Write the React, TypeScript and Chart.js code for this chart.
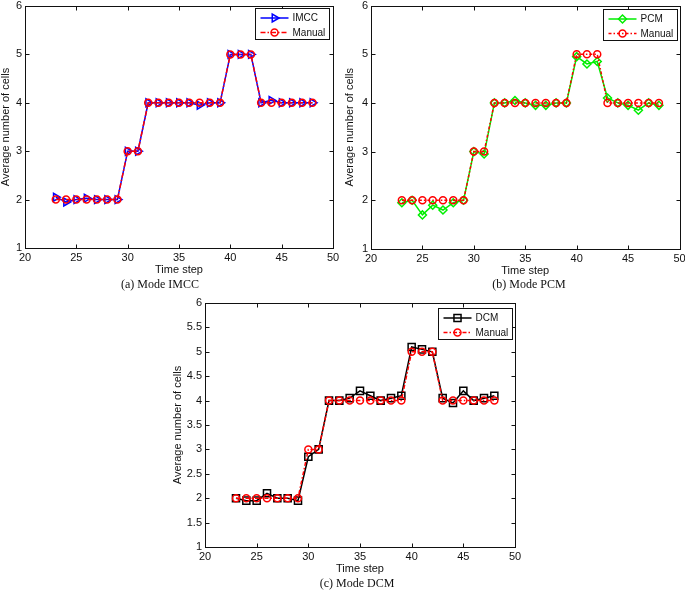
import React, { useEffect, useRef } from 'react';
import { Chart, registerables } from 'chart.js';
import { drawPoint } from 'chart.js/helpers';

Chart.register(...registerables);

const timeSteps = [23, 24, 25, 26, 27, 28, 29, 30, 31, 32, 33, 34, 35, 36, 37, 38, 39, 40, 41, 42, 43, 44, 45, 46, 47, 48];
const manualCells = [2, 2, 2, 2, 2, 2, 2, 3, 3, 4, 4, 4, 4, 4, 4, 4, 4, 5, 5, 5, 4, 4, 4, 4, 4, 4];
const imccCells = [2.05, 1.95, 2.0, 2.03, 2.0, 2.0, 2.0, 3.0, 3.0, 4.0, 4.0, 4.0, 4.0, 4.0, 3.95, 4.0, 4.0, 5.0, 5.0, 5.0, 4.0, 4.05, 4.0, 4.0, 4.0, 4.0];
const pcmCells = [1.95, 2.0, 1.7, 1.9, 1.8, 1.95, 2.0, 3.0, 2.95, 4.0, 4.0, 4.05, 4.0, 3.95, 3.95, 4.0, 4.0, 4.95, 4.8, 4.85, 4.1, 4.0, 3.95, 3.85, 4.0, 3.95];
const dcmCells = [2.0, 1.95, 1.95, 2.1, 2.0, 2.0, 1.95, 2.85, 3.0, 4.0, 4.0, 4.05, 4.2, 4.1, 4.0, 4.05, 4.1, 5.1, 5.05, 5.0, 4.05, 3.95, 4.2, 4.0, 4.05, 4.1];

const xMin = 20;
const xMax = 50;
const xStep = 5;
const yMin = 1;
const yMax = 6;

const xTitle = 'Time step';
const yTitle = 'Average number of cells';

type SeriesDef = {
  label: string;
  values: number[];
  color: string;
  dash: number[];
  pointStyle: string;
  rotation: number;
  radius: number;
  order: number;
};

const manualSeries = (dash: number[]): SeriesDef => ({
  label: 'Manual', values: manualCells, color: '#ff0000', dash, pointStyle: 'circle', rotation: 0, radius: 3.5, order: 0,
});

const panels = [
  {
    key: 'a', left: 0, top: 0, width: 340, height: 278, pad: { top: 4, right: 7, left: 0, bottom: 0 }, yWidth: 25, xHeight: 30,
    yStep: 1, yTitlePad: 0, legendRight: 4, legendTop: 2,
    caption: '(a) Mode IMCC', capX: 160, capY: 284,
    series: [
      { label: 'IMCC', values: imccCells, color: '#0000ff', dash: [], pointStyle: 'triangle', rotation: 90, radius: 4.5, order: 1 },
      manualSeries([5, 2, 1.5, 2]),
    ] as SeriesDef[],
  },
  {
    key: 'b', left: 343, top: 0, width: 342, height: 279, pad: { top: 4, right: 5, left: 0, bottom: 0 }, yWidth: 28, xHeight: 30,
    yStep: 1, yTitlePad: 1.5, legendRight: 3, legendTop: 3,
    caption: '(b) Mode PCM', capX: 529, capY: 284,
    series: [
      { label: 'PCM', values: pcmCells, color: '#00ee00', dash: [], pointStyle: 'rectRot', rotation: 0, radius: 4, order: 1 },
      manualSeries([3, 2, 1.5, 2]),
    ] as SeriesDef[],
  },
  {
    key: 'c', left: 170, top: 295, width: 355, height: 282, pad: { top: 8, right: 10, left: 0, bottom: 0 }, yWidth: 35, xHeight: 30,
    yStep: 0.5, yTitlePad: 2.5, legendRight: 3, legendTop: 5,
    caption: '(c) Mode DCM', capX: 357, capY: 583,
    series: [
      { label: 'DCM', values: dcmCells, color: '#000000', dash: [], pointStyle: 'rect', rotation: 0, radius: 5, order: 1 },
      manualSeries([4, 2, 1.5, 2]),
    ] as SeriesDef[],
  },
];

const FONT = '"Liberation Sans", Arial, sans-serif';

const framePlugin = {
  id: 'matlabFrame',
  afterDraw(chart: any) {
    const { ctx, chartArea } = chart;
    const { left, right, top, bottom } = chartArea;
    const L = Math.round(left) + 0.5;
    const R = Math.round(right) + 0.5;
    const T = Math.round(top) + 0.5;
    const B = Math.round(bottom) + 0.5;
    ctx.save();
    ctx.strokeStyle = '#111';
    ctx.lineWidth = 1;
    ctx.setLineDash([]);
    ctx.strokeRect(L, T, R - L, B - T);
    const tl = 4;
    ctx.beginPath();
    chart.scales.x.ticks.forEach((t: any) => {
      const px = Math.round(chart.scales.x.getPixelForValue(t.value)) + 0.5;
      ctx.moveTo(px, B); ctx.lineTo(px, B - tl);
      ctx.moveTo(px, T); ctx.lineTo(px, T + tl);
    });
    chart.scales.y.ticks.forEach((t: any) => {
      const py = Math.round(chart.scales.y.getPixelForValue(t.value)) + 0.5;
      ctx.moveTo(L, py); ctx.lineTo(L + tl, py);
      ctx.moveTo(R, py); ctx.lineTo(R - tl, py);
    });
    ctx.stroke();

    // legend
    const opts = chart.options.plugins.matlabFrame || {};
    const entries = chart.data.datasets.map((d: any) => d);
    ctx.font = `10px ${FONT}`;
    const textW = Math.max(...entries.map((d: any) => ctx.measureText(d.label).width));
    const w = Math.round(5 + 28 + 4 + textW + 4);
    const h = 31;
    const bx = Math.round(right - (opts.legendRight || 3) - w) + 0.5;
    const by = Math.round(top + (opts.legendTop || 2)) + 0.5;
    ctx.fillStyle = '#ffffff';
    ctx.fillRect(bx, by, w, h);
    ctx.strokeStyle = '#111';
    ctx.strokeRect(bx, by, w, h);
    entries.forEach((d: any, i: number) => {
      const y = by + 9.5 + i * 14.5;
      const x0 = bx + 5;
      const x1 = bx + 33;
      ctx.save();
      ctx.strokeStyle = d.borderColor;
      ctx.lineWidth = d.borderWidth;
      ctx.setLineDash(d.borderDash || []);
      ctx.beginPath();
      ctx.moveTo(x0, y);
      ctx.lineTo(x1, y);
      ctx.stroke();
      ctx.setLineDash([]);
      ctx.fillStyle = 'rgba(0,0,0,0)';
      ctx.lineWidth = d.pointBorderWidth;
      drawPoint(ctx, { pointStyle: d.pointStyle, rotation: d.pointRotation, radius: d.pointRadius, borderWidth: d.pointBorderWidth } as any, (x0 + x1) / 2, y);
      ctx.restore();
      ctx.fillStyle = '#111';
      ctx.font = `10px ${FONT}`;
      ctx.textBaseline = 'middle';
      ctx.textAlign = 'left';
      ctx.fillText(d.label, bx + 37, y + 0.5);
    });
    ctx.restore();
  },
};

function Panel({ p }: { p: any }) {
  const ref = useRef<HTMLCanvasElement | null>(null);
  useEffect(() => {
    if (!ref.current) return;
    const chart = new Chart(ref.current, {
      type: 'line',
      data: {
        datasets: p.series.map((s: SeriesDef) => ({
          label: s.label,
          data: timeSteps.map((x, i) => ({ x, y: s.values[i] })),
          borderColor: s.color,
          backgroundColor: 'rgba(0,0,0,0)',
          borderWidth: 1.5,
          borderDash: s.dash,
          pointStyle: s.pointStyle,
          pointRotation: s.rotation,
          pointRadius: s.radius,
          pointBorderWidth: 1.5,
          pointBorderColor: s.color,
          pointBackgroundColor: 'rgba(0,0,0,0)',
          tension: 0,
          fill: false,
          order: s.order,
        })),
      },
      options: {
        responsive: false,
        animation: false,
        devicePixelRatio: 1,
        layout: { padding: p.pad },
        plugins: {
          legend: { display: false },
          tooltip: { enabled: false },
          matlabFrame: { legendRight: p.legendRight, legendTop: p.legendTop },
        } as any,
        scales: {
          x: {
            type: 'linear',
            min: xMin,
            max: xMax,
            grid: { display: false, drawTicks: false },
            border: { display: false },
            ticks: {
              stepSize: xStep,
              padding: 3,
              color: '#111',
              font: { family: FONT, size: 11 },
              maxRotation: 0,
              autoSkip: false,
              callback: (v: any) => String(v),
            },
            title: {
              display: true,
              text: xTitle,
              color: '#111',
              font: { family: FONT, size: 11, lineHeight: 1 },
              padding: { top: 0, bottom: 2.5 },
            },
            afterFit: (scale: any) => {
              scale.height = p.xHeight;
              scale.paddingLeft = 0;
              scale.paddingRight = 0;
              scale.paddingTop = 0;
              scale.paddingBottom = 0;
            },
          },
          y: {
            type: 'linear',
            min: yMin,
            max: yMax,
            grid: { display: false, drawTicks: false },
            border: { display: false },
            ticks: {
              stepSize: p.yStep,
              padding: 3,
              color: '#111',
              font: { family: FONT, size: 11 },
              autoSkip: false,
              callback: (v: any) => String(v),
            },
            title: {
              display: true,
              text: yTitle,
              color: '#111',
              font: { family: FONT, size: 11, lineHeight: 1 },
              padding: { top: p.yTitlePad, bottom: 0 },
            },
            afterFit: (scale: any) => {
              scale.width = p.yWidth;
              scale.paddingLeft = 0;
              scale.paddingRight = 0;
              scale.paddingTop = 0;
              scale.paddingBottom = 0;
            },
          },
        },
      },
      plugins: [framePlugin],
    } as any);
    return () => chart.destroy();
  }, []);
  return (
    <canvas
      ref={ref}
      width={p.width}
      height={p.height}
      style={{ position: 'absolute', left: p.left, top: p.top, width: p.width, height: p.height }}
    />
  );
}

export default function App() {
  return (
    <div style={{ position: 'absolute', left: 0, top: 0, width: 685, height: 592, background: '#fff', overflow: 'hidden' }}>
      {panels.map((p) => (
        <React.Fragment key={p.key}>
          <Panel p={p} />
          <div
            style={{
              position: 'absolute',
              left: p.capX - 100,
              top: p.capY - 8,
              width: 200,
              height: 16,
              lineHeight: '16px',
              textAlign: 'center',
              fontFamily: '"Liberation Serif", "Times New Roman", serif',
              fontSize: 12,
              color: '#111',
            }}
          >
            {p.caption}
          </div>
        </React.Fragment>
      ))}
    </div>
  );
}
